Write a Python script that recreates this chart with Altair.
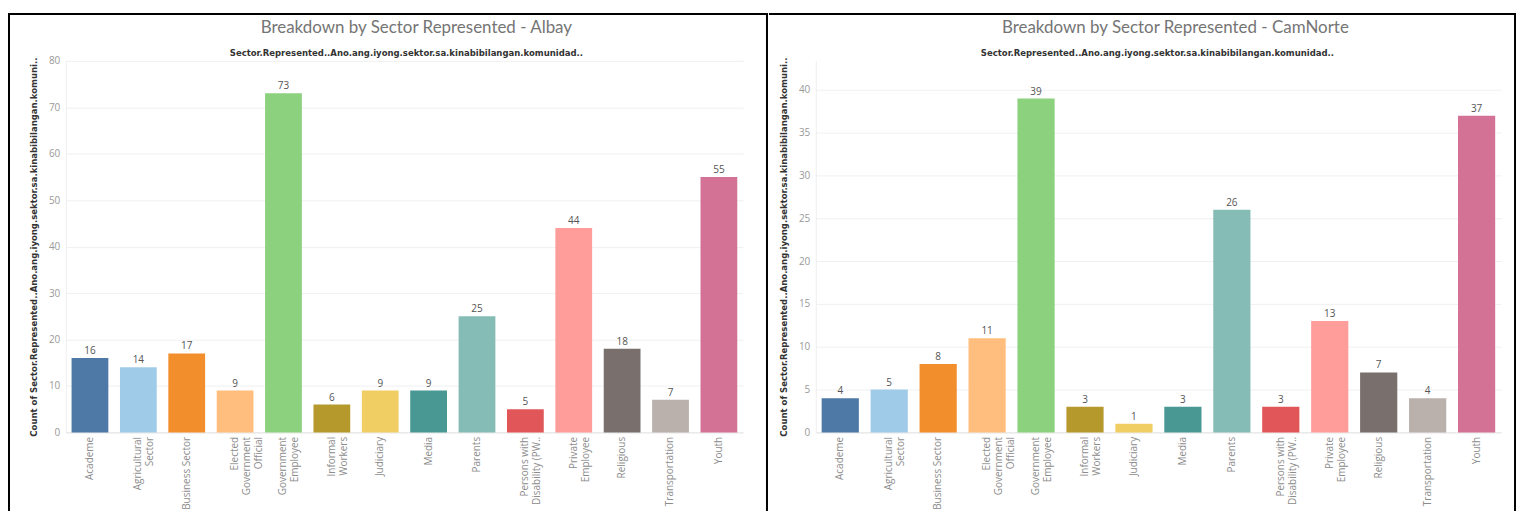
import altair as alt
import pandas as pd

# ---------------- data ----------------
tick_labels = [
    "Academe", "Agricultural\nSector", "Business Sector",
    "Elected\nGovernment\nOfficial", "Government\nEmployee",
    "Informal\nWorkers", "Judiciary", "Media", "Parents",
    "Persons with\nDisability (PW..", "Private\nEmployee",
    "Religious", "Transportation", "Youth",
]
albay_counts = [16, 14, 17, 9, 73, 6, 9, 9, 25, 5, 44, 18, 7, 55]
camnorte_counts = [4, 5, 8, 11, 39, 3, 1, 3, 26, 3, 13, 7, 4, 37]
bar_colors = [
    "#4e79a7", "#a0cbe8", "#f28e2b", "#ffbe7d", "#8cd17d", "#b6992d",
    "#f1ce63", "#499894", "#86bcb6", "#e15759", "#ff9d9a", "#79706e",
    "#bab0ac", "#d37295",
]
albay_ticks = [0, 10, 20, 30, 40, 50, 60, 70, 80]
camnorte_ticks = [0, 5, 10, 15, 20, 25, 30, 35, 40]

title_albay = "Breakdown by Sector Represented - Albay"
title_camnorte = "Breakdown by Sector Represented - CamNorte"
subtitle = "Sector.Represented..Ano.ang.iyong.sektor.sa.kinabibilangan.komunidad.."
y_title = "Count of Sector.Represented..Ano.ang.iyong.sektor.sa.kinabibilangan.komuni.."

NARROW = "Liberation Sans Narrow, DejaVu Sans Condensed, Roboto"
LABEL_FONT = "Open Sans"

H = 373
FRAME_TOP = -47
FRAME_BOTTOM = H + 110


def panel(title, counts, ticks, ymax, W, frame_l, frame_r, title_dx, sub_dx, full_frame):
    df = pd.DataFrame({"sector": tick_labels, "count": counts})
    one = pd.DataFrame({"k": [0]})

    x = alt.X(
        "sector:N",
        sort=tick_labels,
        scale=alt.Scale(paddingInner=0.24, paddingOuter=0.12),
        axis=alt.Axis(
            title=None,
            labelAngle=-90,
            labelAlign="right",
            labelBaseline="middle",
            labelExpr="split(datum.label, '\\n')",
            labelFont=LABEL_FONT,
            labelFontSize=10,
            labelColor="#8c8c8c",
            labelLineHeight=12,
            labelPadding=4,
            ticks=False,
            domainColor="#e4e4e4",
        ),
    )
    y = alt.Y(
        "count:Q",
        scale=alt.Scale(domain=[0, ymax], nice=False, zero=True),
        axis=alt.Axis(
            values=ticks,
            title=y_title,
            titleFont=NARROW,
            titleFontSize=9.5,
            titleFontWeight="bold",
            titleColor="#333333",
            titleLimit=600,
            titlePadding=10,
            labelFont=LABEL_FONT,
            labelFontSize=10,
            labelColor="#9a9a9a",
            labelPadding=6,
            ticks=False,
            domainColor="#eeeeee",
            gridColor="#f0f0f0",
        ),
    )
    color = alt.Color(
        "sector:N",
        sort=tick_labels,
        scale=alt.Scale(domain=tick_labels, range=bar_colors),
        legend=None,
    )

    bars = alt.Chart(df).mark_bar().encode(x=x, y=y, color=color)
    vals = alt.Chart(df).mark_text(
        dy=-7, font=LABEL_FONT, fontSize=10, color="#555555"
    ).encode(x=x, y=y, text="count:Q")

    if full_frame:
        frame = [alt.Chart(one).mark_rect(
            fillOpacity=0, stroke="black", strokeWidth=2
        ).encode(
            x=alt.value(frame_l), x2=alt.value(frame_r),
            y=alt.value(FRAME_TOP), y2=alt.value(FRAME_BOTTOM),
        )]
    else:
        top_rule = alt.Chart(one).mark_rule(color="black", strokeWidth=2).encode(
            x=alt.value(frame_l), x2=alt.value(frame_r + 1), y=alt.value(FRAME_TOP)
        )
        right_rule = alt.Chart(one).mark_rule(color="black", strokeWidth=2).encode(
            x=alt.value(frame_r), y=alt.value(FRAME_TOP), y2=alt.value(FRAME_BOTTOM)
        )
        frame = [top_rule, right_rule]

    ttl = alt.Chart(one).mark_text(
        text=title, font="Lato", fontSize=17, color="#757575",
        baseline="middle", align="center",
    ).encode(x=alt.value(W / 2 + title_dx), y=alt.value(-33))
    sub = alt.Chart(one).mark_text(
        text=subtitle, font=NARROW, fontSize=9.5, fontWeight="bold",
        color="#333333", baseline="middle", align="center",
    ).encode(x=alt.value(W / 2 + sub_dx), y=alt.value(-8))

    return alt.layer(*frame, ttl, sub, bars, vals).properties(width=W, height=H)


left = panel(title_albay, albay_counts, albay_ticks, 80, 680, -57, 704, 12, 2, True)
right = panel(title_camnorte, camnorte_counts, camnorte_ticks, 43.4, 688, -47, 702, 17, -1, False)

chart = alt.hconcat(left, right, spacing=0).properties(
    padding={"left": 0, "top": 4, "right": 0, "bottom": 0},
    background="white",
).configure_view(stroke=None).resolve_scale(y="independent")

chart.save("out.html", embed_options={"renderer": "svg", "actions": False})
